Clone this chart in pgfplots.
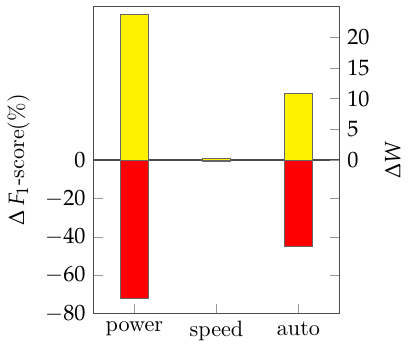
\documentclass[border=0pt]{standalone}
\usepackage{mathpazo}
\usepackage{pgfplots}
\pgfplotsset{compat=1.18}
\begin{document}
\begin{tikzpicture}
\begin{axis}[
  scale only axis,
  width=110.8pt, height=138.3pt,
  xmin=-0.5, xmax=2.5,
  ymin=-80, ymax=80,
  ytick={-80,-60,-40,-20,0},
  xtick={0,1,2},
  xticklabels={power,speed,auto},
  xtick pos=bottom,
  ylabel={$\Delta\, F_1$-score(\%)},
  axis line style={black!70},
  tick style={black!40},
]
\addplot[black!70, line width=0.6pt] coordinates {(-0.5,0) (2.5,0)};
\addplot[ybar, bar width=12.6pt, fill=red, draw=black!60] coordinates {(0,-72.3) (1,-0.6) (2,-45)};
\end{axis}
\begin{axis}[
  scale only axis,
  width=110.8pt, height=138.3pt,
  xmin=-0.5, xmax=2.5,
  ymin=-25, ymax=25,
  ytick={0,5,10,15,20},
  axis y line*=right,
  axis x line=none,
  ylabel={$\Delta W$},
  axis line style={black!70},
  tick style={black!40},
]
\addplot[ybar, bar width=12.6pt, fill=yellow, draw=black!60] coordinates {(0,23.7) (1,0.2) (2,10.9)};
\end{axis}
\path (current bounding box.north) ++(0,2.7pt) coordinate (top);
\path (top);
\end{tikzpicture}
\end{document}
